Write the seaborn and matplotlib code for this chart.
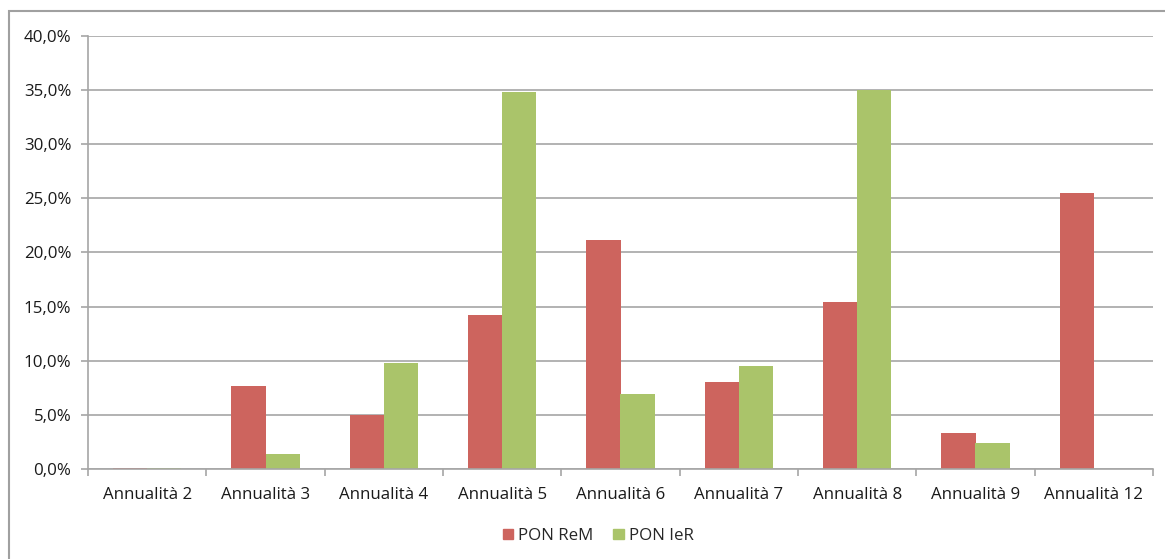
import matplotlib
matplotlib.use("Agg")
import matplotlib.pyplot as plt
import matplotlib.patches as mpatches
from matplotlib.ticker import FuncFormatter, FixedLocator, NullFormatter
import seaborn as sns
import pandas as pd

categories = ["Annualità 2", "Annualità 3", "Annualità 4", "Annualità 5", "Annualità 6",
              "Annualità 7", "Annualità 8", "Annualità 9", "Annualità 12"]
pon_rem = [0.1, 7.7, 5.0, 14.2, 21.2, 8.0, 15.4, 3.3, 25.5]
pon_ier = [0.05, 1.4, 9.8, 34.8, 6.9, 9.5, 35.0, 2.4, 0.0]
series_names = ["PON ReM", "PON IeR"]
colors = ["#CD645E", "#AAC46A"]

df = pd.DataFrame({
    "Annualità": categories * 2,
    "Valore": pon_rem + pon_ier,
    "Serie": [series_names[0]] * len(categories) + [series_names[1]] * len(categories),
})

sns.set_theme(style="white")
plt.rcParams["font.family"] = ["Open Sans", "DejaVu Sans"]

fig = plt.figure(figsize=(11.65, 5.59), dpi=100)
ax = fig.add_axes([88 / 1165, 90 / 559, (1153 - 88) / 1165, (469 - 36) / 559])

sns.barplot(data=df, x="Annualità", y="Valore", hue="Serie", order=categories,
            hue_order=series_names, palette=colors, saturation=1, width=0.58,
            gap=0, ax=ax, legend=False, linewidth=0)

grid_c = "#A6A6A6"
text_c = "#1a1a1a"
fs = 12.2
ax.set_ylim(0, 40)
ax.set_xlim(-0.5, len(categories) - 0.5)
ax.set_yticks([i * 5 for i in range(9)])
ax.yaxis.set_major_formatter(FuncFormatter(lambda v, p: f"{v:.1f}%".replace(".", ",")))
ax.yaxis.grid(True, color=grid_c, linewidth=1.2)
ax.set_axisbelow(True)
ax.set_xlabel("")
ax.set_ylabel("")

# category boundaries carry the x tick marks
ax.xaxis.set_minor_locator(FixedLocator([i - 0.5 for i in range(len(categories) + 1)]))
ax.xaxis.set_minor_formatter(NullFormatter())
ax.tick_params(axis="x", which="major", length=0, labelsize=fs, pad=13, labelcolor=text_c)
ax.tick_params(axis="x", which="minor", length=5, width=1.2, color=grid_c, direction="out", bottom=True)
ax.tick_params(axis="y", length=5, width=1.2, color=grid_c, labelsize=fs, pad=7,
               labelcolor=text_c, left=True)

for side in ["top", "right"]:
    ax.spines[side].set_visible(False)
for side in ["left", "bottom"]:
    ax.spines[side].set_color(grid_c)
    ax.spines[side].set_linewidth(1.2)

# outer chart frame
fig.patches.append(mpatches.Rectangle((9 / 1165, -0.05), 1.2, (559 - 11) / 559 + 0.05,
                                      transform=fig.transFigure, fill=False,
                                      edgecolor="#A0A0A0", linewidth=1.5))

handles = [mpatches.Patch(color=c, label=n) for c, n in zip(colors, series_names)]
fig.legend(handles=handles, loc="center", bbox_to_anchor=(598 / 1165, 1 - 536 / 559),
           ncol=2, frameon=False, fontsize=fs, handlelength=0.6, handleheight=0.6,
           handletextpad=0.3, columnspacing=1.2)

fig.savefig("out.png", dpi=100)
